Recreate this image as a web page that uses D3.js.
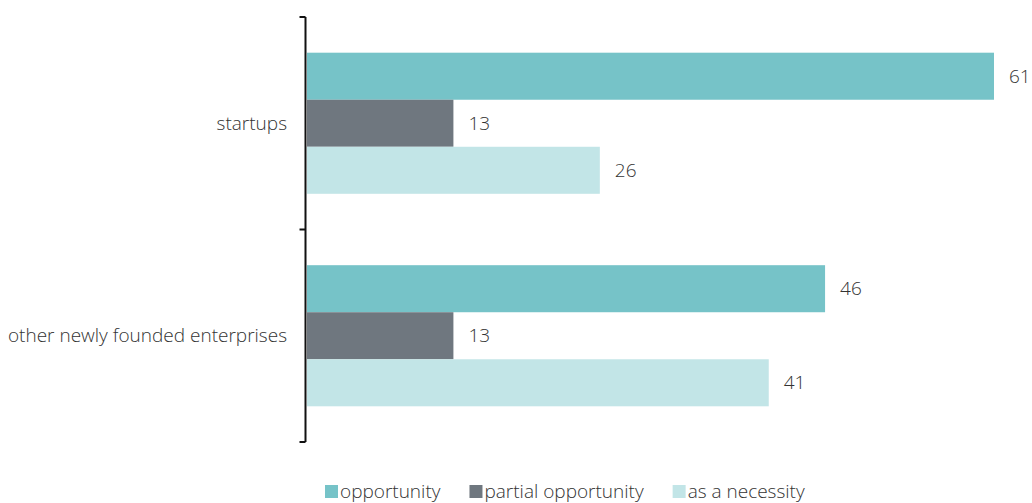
<!DOCTYPE html>
<html>
<head>
<meta charset="utf-8">
<script src="https://cdn.jsdelivr.net/npm/d3@7"></script>
<style>
  html, body { margin: 0; padding: 0; background: #fff; }
  svg { display: block; }
  text { font-family: "Open Sans", "Noto Sans", sans-serif; font-weight: 300; fill: #333; }
</style>
</head>
<body>
<svg id="chart" width="1032" height="503"></svg>
<script>
// Motivation for founding, share of respondents (%)
const categories = ["startups", "other newly founded enterprises"];
const seriesNames = ["opportunity", "partial opportunity", "as a necessity"];
const opportunityValues = [61, 46];
const partialValues = [13, 13];
const necessityValues = [26, 41];
const seriesColors = ["#76c3c8", "#6f777f", "#c2e5e7"];

const seriesValues = [opportunityValues, partialValues, necessityValues];

const svg = d3.select("#chart");
const axisX = 305.5;
const plotTop = 17, plotBottom = 442;

const y0 = d3.scaleBand()
  .domain(categories)
  .range([plotTop, plotBottom])
  .paddingInner(0.336)
  .paddingOuter(0.168);

const y1 = d3.scaleBand()
  .domain(seriesNames)
  .range([0, y0.bandwidth()])
  .padding(0);

const x = d3.scaleLinear()
  .domain([0, 61])
  .range([307, 994]);

// bars with value labels
const groups = svg.selectAll("g.cat")
  .data(categories)
  .join("g")
  .attr("class", "cat")
  .attr("transform", d => `translate(0,${y0(d)})`);

groups.each(function(cat, ci) {
  const g = d3.select(this);
  seriesNames.forEach((s, si) => {
    const v = seriesValues[si][ci];
    g.append("rect")
      .attr("x", x(0))
      .attr("y", y1(s))
      .attr("width", x(v) - x(0))
      .attr("height", y1.bandwidth())
      .attr("fill", seriesColors[si]);
    g.append("text")
      .attr("x", x(v) + 15)
      .attr("y", y1(s) + y1.bandwidth() / 2)
      .attr("dy", "0.35em")
      .attr("font-size", 19)
      .text(v);
  });
});

// category axis: outer ticks at the ends, one tick between the groups
const axisG = svg.append("g");
axisG.append("line")
  .attr("x1", axisX).attr("x2", axisX)
  .attr("y1", plotTop).attr("y2", plotBottom)
  .attr("stroke", "#111").attr("stroke-width", 2);
const tickYs = [plotTop, (plotTop + plotBottom) / 2, plotBottom];
axisG.selectAll("line.tick")
  .data(tickYs)
  .join("line")
  .attr("class", "tick")
  .attr("x1", axisX - 6).attr("x2", axisX)
  .attr("y1", d => d).attr("y2", d => d)
  .attr("stroke", "#111").attr("stroke-width", 2);

axisG.selectAll("text.cat")
  .data(categories)
  .join("text")
  .attr("class", "cat")
  .attr("x", 287)
  .attr("y", d => y0(d) + y0.bandwidth() / 2)
  .attr("dy", "0.35em")
  .attr("text-anchor", "end")
  .attr("font-size", 19)
  .text(d => d);

// legend
const legend = svg.append("g");
let lx = 325;
seriesNames.forEach((s, i) => {
  legend.append("rect")
    .attr("x", lx).attr("y", 485)
    .attr("width", 13).attr("height", 13)
    .attr("fill", seriesColors[i]);
  const t = legend.append("text")
    .attr("x", lx + 15)
    .attr("y", 491.5)
    .attr("dy", "0.35em")
    .attr("font-size", 19)
    .text(s);
  lx = lx + 15 + t.node().getComputedTextLength() + 29;
});
</script>
</body>
</html>
